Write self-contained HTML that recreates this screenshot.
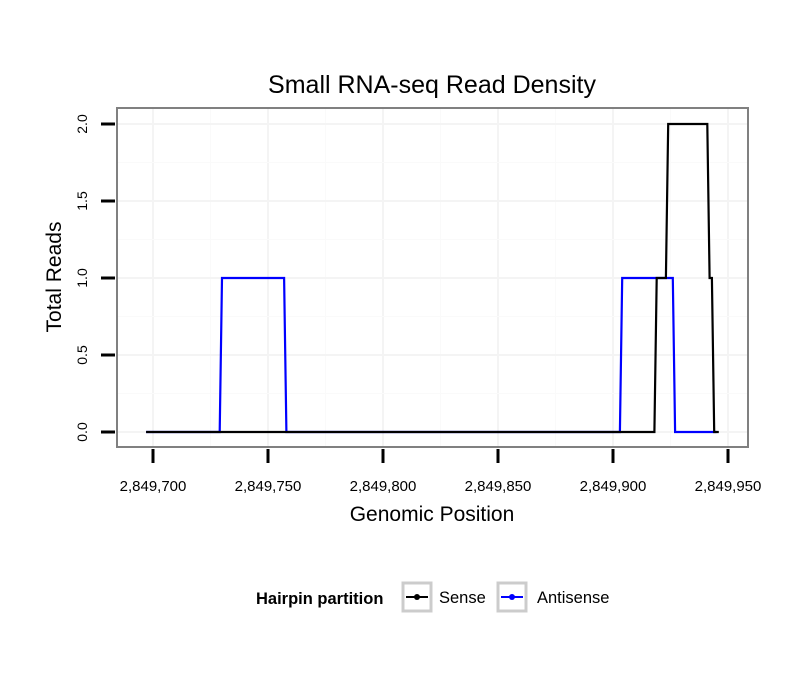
<!DOCTYPE html>
<html><head><meta charset="utf-8"><style>
body{margin:0;background:#fff;font-family:"Liberation Sans",sans-serif}
</style></head><body>
<svg id="chart" width="810" height="690" xmlns="http://www.w3.org/2000/svg" font-family="Liberation Sans, sans-serif">
<rect width="810" height="690" fill="#fff"/>
<text x="432" y="93" text-anchor="middle" font-size="25">Small RNA-seq Read Density</text>
<g id="grid"></g>
<g id="series"></g>
<rect x="117" y="108" width="631" height="339" fill="none" stroke="#808080" stroke-width="2"/>
<g id="axes"></g>
<text x="432" y="521" text-anchor="middle" font-size="21">Genomic Position</text>
<text transform="translate(61,277) rotate(-90)" text-anchor="middle" font-size="21">Total Reads</text>
<g>
<text x="256" y="604" font-size="16.5" font-weight="bold">Hairpin partition</text>
<g>
<rect x="403" y="583" width="28" height="28" fill="#fff" stroke="#ccc" stroke-width="3"/>
<line x1="406" y1="597" x2="428" y2="597" stroke="#000" stroke-width="2"/><circle cx="417" cy="597" r="3" fill="#000"/>
<text x="439" y="603" font-size="16.5">Sense</text></g>
<g>
<rect x="498" y="583" width="28" height="28" fill="#fff" stroke="#ccc" stroke-width="3"/>
<line x1="501" y1="597" x2="523" y2="597" stroke="#00f" stroke-width="2"/><circle cx="512" cy="597" r="3" fill="#00f"/>
<text x="537" y="603" font-size="16.5">Antisense</text></g>
</g>
</svg>
<script>
const xTicks=[2849700,2849750,2849800,2849850,2849900,2849950];
const yTicks=[0,0.5,1.0,1.5,2.0];
const yTickLabels=["0.0","0.5","1.0","1.5","2.0"];
const senseX=[2849697,2849918,2849919,2849923,2849924,2849941,2849942,2849943,2849944,2849946];
const senseY=[0,0,1,1,2,2,1,1,0,0];
const antiX=[2849697,2849729,2849730,2849757,2849758,2849903,2849904,2849926,2849927,2849945];
const antiY=[0,0,1,1,0,0,1,1,0,0];
const NS="http://www.w3.org/2000/svg";
const xs=v=>153+(v-2849700)*2.3;
const ys=v=>432-v*154;
function mk(tag,attrs,parent){const e=document.createElementNS(NS,tag);for(const k in attrs)e.setAttribute(k,attrs[k]);parent.appendChild(e);return e;}
const grid=document.getElementById('grid'),axes=document.getElementById('axes'),series=document.getElementById('series');
for(let i=0;i<xTicks.length;i++){
 const x=xs(xTicks[i]);
 const g=mk('line',{x1:x,x2:x,y1:109,y2:446,stroke:'#f4f4f4','stroke-width':2},grid);
 
 
 if(i<xTicks.length-1){const xm=xs(xTicks[i]+25);const m=mk('line',{x1:xm,x2:xm,y1:109,y2:446,stroke:'#fafafa','stroke-width':1},grid);
 
 }
 const t=mk('line',{x1:x,x2:x,y1:449,y2:463,stroke:'#000','stroke-width':3},axes);
 
 
 const l=mk('text',{x:x,y:491,'text-anchor':'middle','font-size':15},axes);
 l.textContent=xTicks[i].toLocaleString('en-US');
 
 
}
for(let i=0;i<yTicks.length;i++){
 const y=ys(yTicks[i]);
 const g=mk('line',{x1:118,x2:747,y1:y,y2:y,stroke:'#f4f4f4','stroke-width':2},grid);
 
 
 if(i<yTicks.length-1){const ym=ys(yTicks[i]+0.25);const m=mk('line',{x1:118,x2:747,y1:ym,y2:ym,stroke:'#fafafa','stroke-width':1},grid);
 
 }
 const t=mk('line',{x1:101,x2:115,y1:y,y2:y,stroke:'#000','stroke-width':3},axes);
 
 
 const l=mk('text',{transform:`translate(87,${y}) rotate(-90)`,'text-anchor':'middle','font-size':14},axes);
 l.textContent=yTickLabels[i];
 
 
}
function line(X,Y,color,name){
 const p=mk('polyline',{points:X.map((x,i)=>xs(x)+','+ys(Y[i])).join(' '),fill:'none',stroke:color,'stroke-width':2.2},series);
 
 
}
line(antiX,antiY,'#0000ff','antisense-line');
line(senseX,senseY,'#000000','sense-line');
</script>
</body></html>
